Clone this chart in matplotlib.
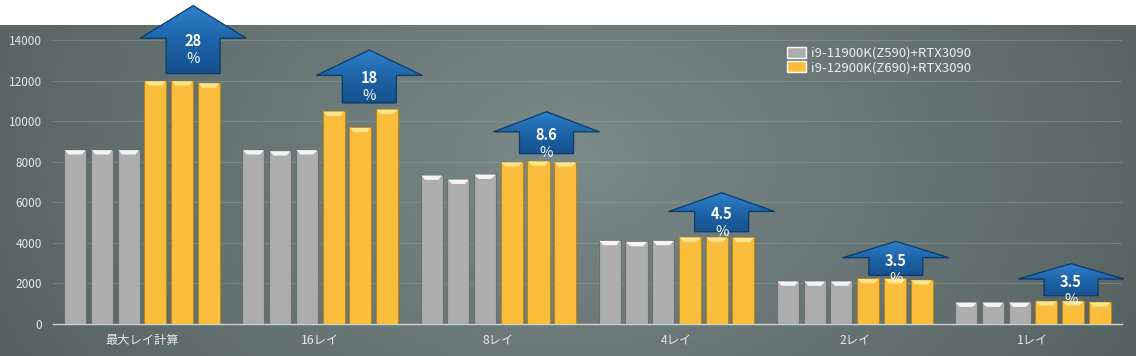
import numpy as np
import matplotlib.pyplot as plt
from matplotlib.patches import Polygon, Patch
from matplotlib.colors import LinearSegmentedColormap

plt.rcParams['font.family'] = ['Noto Sans CJK JP', 'DejaVu Sans']

# data
categories = ['最大レイ計算', '16レイ', '8レイ', '4レイ', '2レイ', '1レイ']
series_names = ['i9-11900K(Z590)+RTX3090', 'i9-12900K(Z690)+RTX3090']
z590_run1 = [8600, 8600, 7350, 4130, 2130, 1090]
z590_run2 = [8600, 8550, 7150, 4080, 2130, 1090]
z590_run3 = [8600, 8600, 7400, 4130, 2130, 1090]
z690_run1 = [12000, 10500, 8000, 4300, 2250, 1150]
z690_run2 = [12000, 9700, 8050, 4300, 2250, 1150]
z690_run3 = [11900, 10600, 8000, 4280, 2190, 1100]
gain_labels = ['28', '18', '8.6', '4.5', '3.5', '3.5']
yticks = [0, 2000, 4000, 6000, 8000, 10000, 12000, 14000]

# arrow layout (pixels)
arrow_height = [68, 53, 42, 39, 34, 32]
arrow_gap = [7, 6, 7, 5, 3, 5]
arrow_shift = [11, 9, 8, 5, 1, -2]

W, H = 1136, 356
fig = plt.figure(figsize=(W / 100, H / 100), dpi=100)
fig.patch.set_facecolor('white')

# background gradient
gx, gy = np.meshgrid(np.linspace(0, 1, 400), np.linspace(0, 1, 120))
r = np.clip(np.sqrt(((gx - 0.5) / 0.55) ** 2 + ((gy - 0.4) / 1.3) ** 2), 0, 1)
c_mid = np.array([0x7a, 0x8a, 0x89]) / 255
c_edge = np.array([0x56, 0x63, 0x62]) / 255
grad = c_mid[None, None, :] * (1 - r[..., None]) + c_edge[None, None, :] * r[..., None]
bg = fig.add_axes([0, 0, 1, 331 / H])
bg.imshow(grad, aspect='auto', extent=[0, 1, 0, 1], origin='upper')
bg.axis('off')

ax = fig.add_axes([53 / W, 32 / H, 1069 / W, 324 / H])
ax.patch.set_visible(False)
ytop = 14000 * 324 / 284
ax.set_xlim(-0.5, 5.5)
ax.set_ylim(0, ytop)
xpx = 6 / 1069
ypx = ytop / 324

x = np.arange(len(categories))
offsets = [-0.375, -0.225, -0.075, 0.075, 0.225, 0.375]
width = 0.124
runs = [z590_run1, z590_run2, z590_run3, z690_run1, z690_run2, z690_run3]
for k, vals in enumerate(runs):
    gold = k >= 3
    face = '#fbbe3c' if gold else '#adadad'
    edge = '#b8841c' if gold else '#6e6e6e'
    top = '#fde58c' if gold else '#f4f4f4'
    bars = ax.bar(x + offsets[k], vals, width, color=face, edgecolor=edge,
                  linewidth=0.8, zorder=3)
    for b in bars:
        x0, w, h = b.get_x(), b.get_width(), b.get_height()
        dx, bh = 4.5 * xpx, 5 * ypx
        ax.add_patch(Polygon([(x0 + 0.6 * xpx, h - 0.6 * ypx), (x0 + w - 0.6 * xpx, h - 0.6 * ypx),
                              (x0 + w - dx, h - bh), (x0 + dx, h - bh)],
                             closed=True, facecolor=top, edgecolor='none', zorder=4))

# gain arrows
cmap = LinearSegmentedColormap.from_list('arr', ['#2f80cc', '#1e64a8', '#16518e'])
for i, lab in enumerate(gain_labels):
    cx = i + 0.225 + arrow_shift[i] * xpx
    y0 = max(z690_run1[i], z690_run2[i], z690_run3[i]) + arrow_gap[i] * ypx
    hgt = arrow_height[i]
    hs = hgt * 0.52
    pts = [(-27, 0), (27, 0), (27, hs), (53, hs), (0, hgt), (-53, hs), (-27, hs)]
    poly = Polygon([(cx + px * xpx, y0 + py * ypx) for px, py in pts], closed=True,
                   facecolor='none', edgecolor='#0c3a68', linewidth=0.9, zorder=6,
                   clip_on=False)
    ax.add_patch(poly)
    img = ax.imshow(np.linspace(0, 1, 64)[:, None], cmap=cmap, aspect='auto',
                    extent=[cx - 53 * xpx, cx + 53 * xpx, y0, y0 + hgt * ypx],
                    origin='upper', zorder=5)
    img.set_clip_path(poly)
    base = y0 + hs * ypx
    ax.text(cx, base - 3 * ypx, lab, color='white', fontsize=10.5, fontweight='bold',
            ha='center', va='center', zorder=7)
    ax.text(cx, base - 21 * ypx, '%', color='white', fontsize=10.5,
            ha='center', va='center', zorder=7)

ax.set_xlim(-0.5, 5.5)
ax.set_ylim(0, ytop)

ax.set_yticks(yticks)
ax.set_xticks(x)
ax.set_xticklabels(categories)
ax.tick_params(axis='y', length=0, pad=8, labelsize=8.5, labelcolor='#e4e8ea')
ax.tick_params(axis='x', length=0, pad=7, labelsize=8.8, labelcolor='#e6e8e8')
ax.grid(axis='y', color='#93a2a1', linewidth=0.8, alpha=0.45, zorder=1)
for s in ['left', 'right', 'top']:
    ax.spines[s].set_visible(False)
ax.spines['bottom'].set_color('#cdd4d4')
ax.spines['bottom'].set_linewidth(1)

handles = [Patch(facecolor='#adadad', edgecolor='white', linewidth=1),
           Patch(facecolor='#fbbe3c', edgecolor='white', linewidth=1)]
leg = fig.legend(handles, series_names, loc='upper left', bbox_to_anchor=(0.687, 0.887),
                 frameon=False, fontsize=9.5, handlelength=1.45, handleheight=0.85,
                 labelspacing=0.1, handletextpad=0.35, borderpad=0)
for t in leg.get_texts():
    t.set_color('#eef0f0')

fig.savefig('out.png', dpi=100)
